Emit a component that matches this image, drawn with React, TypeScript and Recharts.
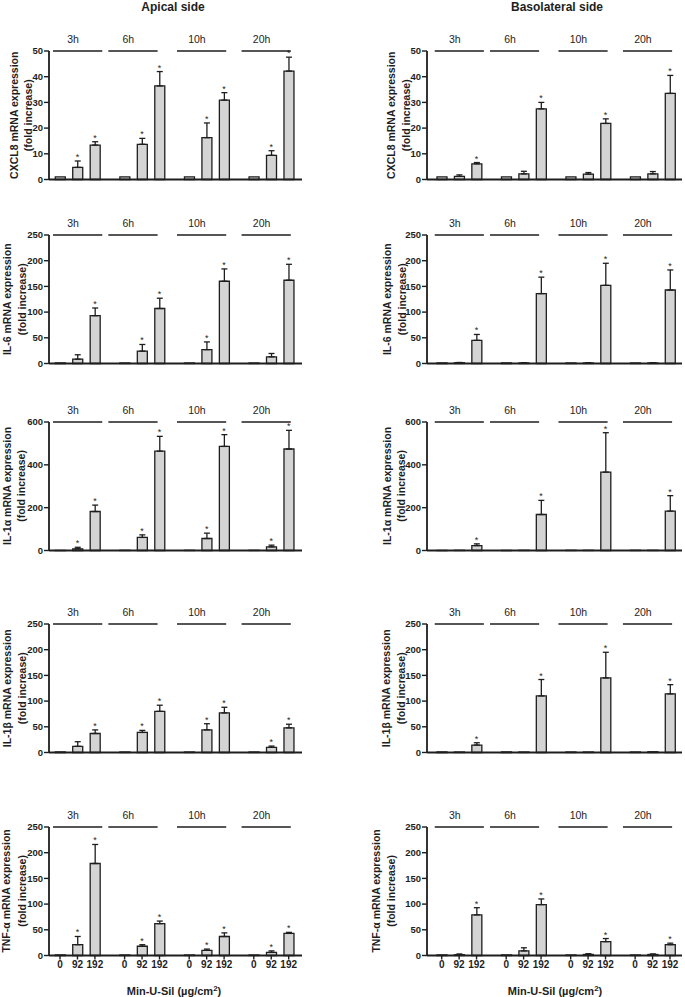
import React from "react";
import {
  Bar,
  ComposedChart,
  ErrorBar,
  ReferenceLine,
  Scatter,
  XAxis,
  YAxis,
} from "recharts";

const FONT = '"Liberation Sans", Arial, Helvetica, sans-serif';
const INK = "#1e1e1e";
const BAR_FILL = "#d4d4d4";

// ---------------------------------------------------------------------------
// Data: order is 3h (0, 92, 192), 6h (...), 10h (...), 20h (...)
// ---------------------------------------------------------------------------

const TIMES = ["3h", "6h", "10h", "20h"];
const DOSES = ["0", "92", "192"];
const GENES = ["CXCL8", "IL-6", "IL-1α", "IL-1β", "TNF-α"];

const TICKS_CXCL8 = [0, 10, 20, 30, 40, 50];
const TICKS_250 = [0, 50, 100, 150, 200, 250];
const TICKS_IL1A = [0, 200, 400, 600];

// asterisks (1 = significant vs control)
const SIG_ALL = [0, 1, 1, 0, 1, 1, 0, 1, 1, 0, 1, 1];
const SIG_HIGH = [0, 0, 1, 0, 0, 1, 0, 0, 1, 0, 0, 1];
const SIG_IL6_AP = [0, 0, 1, 0, 1, 1, 0, 1, 1, 0, 0, 1];
const SIG_IL1B_AP = [0, 0, 1, 0, 1, 1, 0, 1, 1, 0, 1, 1];

// apical side
const AP_CXCL8 = [1, 4.7, 13.4, 1, 13.7, 36.4, 1, 16.3, 30.9, 1, 9.4, 42.2];
const AP_CXCL8_SEM = [0, 2.5, 1.3, 0, 2.3, 5.6, 0, 5.7, 2.9, 0, 1.8, 5.4];
const AP_IL6 = [1, 8.4, 93, 1, 24, 107, 1, 27, 160, 1, 13, 162];
const AP_IL6_SEM = [0, 8.6, 15, 0, 13, 20, 0, 15, 24, 0, 6.5, 31];
const AP_IL1A = [1, 8, 182, 1, 61, 464, 1, 56, 486, 1, 17, 474];
const AP_IL1A_SEM = [0, 7, 30, 0, 12, 69, 0, 25, 55, 0, 8, 87];
const AP_IL1B = [1, 12, 37, 1, 39, 80, 1, 44, 77, 1, 10, 48];
const AP_IL1B_SEM = [0, 9, 7, 0, 4, 12, 0, 12, 11, 0, 2.5, 7];
const AP_TNF = [1, 21, 179, 1, 18, 62, 1, 10, 37, 1, 6, 43];
const AP_TNF_SEM = [0, 16, 37, 0, 3, 5, 0, 2.5, 7, 0, 3, 2];

// basolateral side
const BL_CXCL8 = [1, 1.2, 6.1, 1, 2.2, 27.5, 1, 2.1, 21.8, 1, 2.2, 33.5];
const BL_CXCL8_SEM = [0, 0.6, 0.5, 0, 1, 2.5, 0, 0.6, 1.8, 0, 0.9, 7];
const BL_IL6 = [1, 1.5, 45, 1, 1, 136, 1, 1, 152, 1, 1, 143];
const BL_IL6_SEM = [0, 0.5, 11.5, 0, 0.5, 32, 0, 0.5, 43, 0, 0.5, 39];
const BL_IL1A = [1, 1, 23, 1, 1, 168, 1, 1, 366, 1, 1, 184];
const BL_IL1A_SEM = [0, 0, 8, 0, 0, 66, 0, 0, 184, 0, 0, 72];
const BL_IL1B = [1, 1, 14.5, 1, 1, 110, 1, 1, 145, 1, 1.5, 114];
const BL_IL1B_SEM = [0, 0, 4.5, 0, 0, 32, 0, 0, 50, 0, 0, 18];
const BL_TNF = [1, 1.5, 79, 1, 9, 99, 1, 2, 27, 1, 2, 21];
const BL_TNF_SEM = [0, 1.5, 14, 0, 6, 11, 0, 1.5, 6, 0, 1, 3];

// ---------------------------------------------------------------------------
// Layout
// ---------------------------------------------------------------------------

const GROUP_STEP = 3.7; // x units between time groups (1 unit = one bar slot)
const LAST_POS = 3 * GROUP_STEP + 2;
const BRACKET_START = [-0.4, -0.93, -0.7, -0.7];
const BRACKET_LEN = 2.82;

const ROW_TOPS = [51, 235, 421.7, 624, 826.7];
const PLOT_H = 128.5;
const TOP_SPACE = 30;
const Y_AXIS_W = 49;

const COLS = [
  { left: 0, width: 310, marginRight: 8, padL: 11, padR: 13.3, title: "Apical side", titleX: 173 },
  { left: 378, width: 307, marginRight: 3, padL: 14.7, padR: 12, title: "Basolateral side", titleX: 557 },
];

// centre x of the two y-title lines, per column and row
const YLABEL_X = [
  [[13.5, 28], [7, 21.5], [7, 21], [6.5, 21.5], [6, 21.5]],
  [[391, 406], [386.5, 401.5], [386.5, 401], [386, 400.5], [376, 391]],
];

type Series = { mean: number[]; sem: number[]; sig: number[]; ticks: number[] };

const PANELS: Series[][] = [
  [
    { mean: AP_CXCL8, sem: AP_CXCL8_SEM, sig: SIG_ALL, ticks: TICKS_CXCL8 },
    { mean: AP_IL6, sem: AP_IL6_SEM, sig: SIG_IL6_AP, ticks: TICKS_250 },
    { mean: AP_IL1A, sem: AP_IL1A_SEM, sig: SIG_ALL, ticks: TICKS_IL1A },
    { mean: AP_IL1B, sem: AP_IL1B_SEM, sig: SIG_IL1B_AP, ticks: TICKS_250 },
    { mean: AP_TNF, sem: AP_TNF_SEM, sig: SIG_ALL, ticks: TICKS_250 },
  ],
  [
    { mean: BL_CXCL8, sem: BL_CXCL8_SEM, sig: SIG_HIGH, ticks: TICKS_CXCL8 },
    { mean: BL_IL6, sem: BL_IL6_SEM, sig: SIG_HIGH, ticks: TICKS_250 },
    { mean: BL_IL1A, sem: BL_IL1A_SEM, sig: SIG_HIGH, ticks: TICKS_IL1A },
    { mean: BL_IL1B, sem: BL_IL1B_SEM, sig: SIG_HIGH, ticks: TICKS_250 },
    { mean: BL_TNF, sem: BL_TNF_SEM, sig: SIG_HIGH, ticks: TICKS_250 },
  ],
];

const slotPos = (i: number) => Math.floor(i / 3) * GROUP_STEP + (i % 3);
const POSITIONS = AP_CXCL8.map((_, i) => slotPos(i));

const Star = (p: any) => (
  <text x={p.cx} y={p.cy - 1} textAnchor="middle" fontSize={9} fill={INK}>
    *
  </text>
);

const groupLabel = (text: string) => (p: any) => {
  const vb = p.viewBox || {};
  return (
    <text x={vb.x + 20} y={vb.y - 8} textAnchor="middle" fontSize={10.5} fill={INK}>
      {text}
    </text>
  );
};

function Panel({ col, row }: { col: number; row: number }) {
  const c = COLS[col];
  const s = PANELS[col][row];
  const bottom = row === 4;
  const xAxisH = bottom ? 24 : 10;
  const height = TOP_SPACE + PLOT_H + xAxisH + 2;
  const plotW = c.width - Y_AXIS_W - c.marginRight;
  const unit = (plotW - c.padL - c.padR) / LAST_POS;
  const domain = [-c.padL / unit, LAST_POS + c.padR / unit];
  const yMax = s.ticks[s.ticks.length - 1];

  const rows = s.mean.map((m, i) => ({
    pos: slotPos(i),
    value: m,
    err: s.sem[i] > 0 ? [0, s.sem[i]] : null,
  }));
  const stars = s.mean
    .map((m, i) => ({ pos: slotPos(i), top: m + s.sem[i], sig: s.sig[i] }))
    .filter((d) => d.sig === 1);

  return (
    <div style={{ position: "absolute", left: c.left, top: ROW_TOPS[row] - TOP_SPACE }}>
      <ComposedChart
        width={c.width}
        height={height}
        data={rows}
        margin={{ top: TOP_SPACE, right: c.marginRight, left: 0, bottom: 2 }}
      >
        <XAxis
          type="number"
          dataKey="pos"
          domain={domain}
          ticks={POSITIONS}
          interval={0}
          height={xAxisH}
          axisLine={{ stroke: INK, strokeWidth: 1.8 }}
          tickLine={{ stroke: INK, strokeWidth: 1.4 }}
          tickSize={4}
          tickMargin={1}
          tick={bottom ? { fontSize: 10, fontWeight: 700, fill: INK } : false}
          tickFormatter={(_v: number, i: number) => DOSES[i % 3]}
        />
        <YAxis
          type="number"
          domain={[0, yMax]}
          ticks={s.ticks}
          interval={0}
          width={Y_AXIS_W}
          axisLine={{ stroke: INK, strokeWidth: 1.8 }}
          tickLine={{ stroke: INK, strokeWidth: 1.4 }}
          tickSize={5}
          tickMargin={1}
          tick={{ fontSize: 9.5, fontWeight: 700, fill: INK }}
        />
        {TIMES.map((t, g) => {
          const x0 = g * GROUP_STEP + BRACKET_START[g];
          return (
            <ReferenceLine
              key={t}
              segment={[
                { x: x0, y: yMax },
                { x: x0 + BRACKET_LEN, y: yMax },
              ]}
              stroke={INK}
              strokeWidth={1.5}
              ifOverflow="visible"
              label={groupLabel(t)}
            />
          );
        })}
        <Bar
          dataKey="value"
          barSize={10}
          fill={BAR_FILL}
          stroke={INK}
          strokeWidth={1.3}
          isAnimationActive={false}
        >
          <ErrorBar dataKey="err" width={3} stroke={INK} strokeWidth={1.3} direction="y" />
        </Bar>
        <Scatter
          data={stars}
          dataKey="top"
          shape={Star}
          isAnimationActive={false}
        />
      </ComposedChart>
    </div>
  );
}

export default function App() {
  return (
    <div
      style={{
        position: "absolute",
        left: 0,
        top: 0,
        width: 685,
        height: 997,
        background: "#fff",
        fontFamily: FONT,
        overflow: "hidden",
      }}
    >
      {COLS.map((_, col) =>
        GENES.map((_g, row) => <Panel key={`${col}-${row}`} col={col} row={row} />)
      )}
      <svg
        width={685}
        height={997}
        style={{ position: "absolute", left: 0, top: 0, pointerEvents: "none" }}
        fontFamily={FONT}
      >
        {COLS.map((c) => (
          <text key={c.title} x={c.titleX} y={11} textAnchor="middle" fontSize={12} fontWeight={700} fill={INK}>
            {c.title}
          </text>
        ))}
        {COLS.map((c, col) =>
          GENES.map((gene, row) => {
            const cy = ROW_TOPS[row] + PLOT_H / 2;
            const [x1, x2] = YLABEL_X[col][row];
            return (
              <g key={`${col}-${gene}`}>
                <text
                  transform={`translate(${x1},${cy}) rotate(-90)`}
                  textAnchor="middle"
                  dominantBaseline="central"
                  fontSize={10.5}
                  fontWeight={700}
                  fill={INK}
                >
                  {`${gene} mRNA expression`}
                </text>
                <text
                  transform={`translate(${x2},${cy}) rotate(-90)`}
                  textAnchor="middle"
                  dominantBaseline="central"
                  fontSize={10.5}
                  fontWeight={700}
                  fill={INK}
                >
                  (fold increase)
                </text>
              </g>
            );
          })
        )}
        {COLS.map((c, col) => (
          <text
            key={`xl-${col}`}
            x={col === 0 ? 174 : 555}
            y={995}
            textAnchor="middle"
            fontSize={11}
            fontWeight={700}
            fill={INK}
          >
            Min-U-Sil (µg/cm
            <tspan fontSize={8} dy={-4}>
              2
            </tspan>
            <tspan dy={4}>)</tspan>
          </text>
        ))}
      </svg>
    </div>
  );
}
